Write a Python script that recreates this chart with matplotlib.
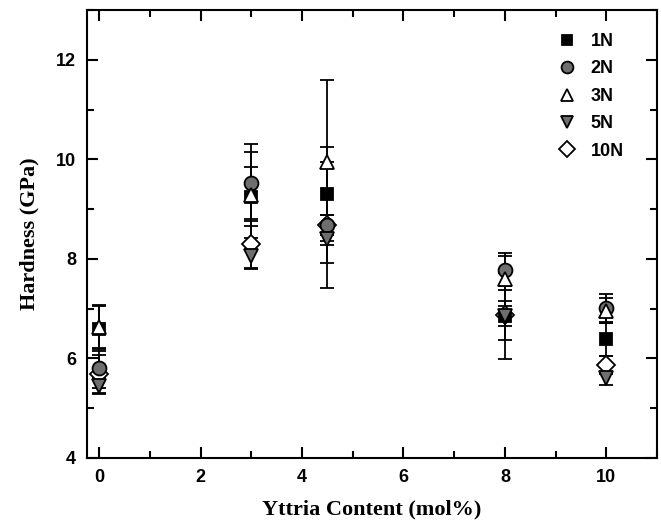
import matplotlib
matplotlib.use('Agg')
import matplotlib.pyplot as plt
from matplotlib.ticker import MultipleLocator

# Yttria content (mol%) for each group of measurements
yttria = [0, 3, 4.5, 8, 10]

# hardness (GPa) and error bar half-widths for each load
h_1n = [6.60, 9.25, 9.30, 6.85, 6.39]
e_1n = [0.45, 0.60, 0.94, 0.87, 0.34]
h_2n = [5.80, 9.53, 8.68, 7.78, 7.01]
e_2n = [0.40, 0.77, 1.27, 0.33, 0.29]
h_3n = [6.63, 9.28, 9.94, 7.60, 6.96]
e_3n = [0.44, 0.86, 1.66, 0.45, 0.25]
h_5n = [5.45, 8.06, 8.40, 6.85, 5.60]
e_5n = [0.16, 0.25, 0.48, 0.20, 0.13]
h_10n = [5.68, 8.30, 8.68, 6.87, 5.87]
e_10n = [0.38, 0.50, 0.20, 0.50, 0.18]

labels = ['1N', '2N', '3N', '5N', '10N']


def main():
    plt.rcParams['font.family'] = ['Liberation Sans', 'DejaVu Sans']
    fig = plt.figure(figsize=(6.61, 5.24), dpi=100)
    ax = fig.add_axes([0.1316, 0.126, 0.8624, 0.855])

    # (values, errors, marker, face colour, size, zorder)
    series = [
        (h_1n, e_1n, 's', 'black', 8, 4),
        (h_2n, e_2n, 'o', '#6e6e6e', 10, 5),
        (h_3n, e_3n, '^', 'white', 10, 6),
        (h_5n, e_5n, 'v', '#6e6e6e', 10, 7),
        (h_10n, e_10n, 'D', 'white', 9.5, 3),
    ]
    handles = []
    for (vals, errs, mk, fc, ms, z), lab in zip(series, labels):
        # error bars underneath every marker
        ax.errorbar(yttria, vals, yerr=errs, fmt='none', ecolor='black',
                    elinewidth=1.3, capsize=5, capthick=1.3, zorder=2)
        ln, = ax.plot(yttria, vals, ls='none', marker=mk, mfc=fc,
                      mec='black', mew=1.3, ms=ms, label=lab, zorder=z)
        handles.append(ln)

    ax.set_xlim(-0.24, 11)
    ax.set_ylim(4, 13)
    ax.xaxis.set_major_locator(MultipleLocator(2))
    ax.xaxis.set_minor_locator(MultipleLocator(1))
    ax.yaxis.set_major_locator(MultipleLocator(2))
    ax.yaxis.set_minor_locator(MultipleLocator(1))
    ax.tick_params(which='both', direction='in', top=True, right=True,
                   width=1.5, labelsize=13, pad=8)
    ax.tick_params(which='major', length=8)
    ax.tick_params(which='minor', length=5)
    for lbl in ax.get_xticklabels() + ax.get_yticklabels():
        lbl.set_fontweight('bold')
    for sp in ax.spines.values():
        sp.set_linewidth(1.5)

    ax.set_xlabel('Yttria Content (mol%)', family='Liberation Serif',
                  fontweight='bold', fontsize=16, labelpad=10)
    ax.set_ylabel('Hardness (GPa)', family='Liberation Serif',
                  fontweight='bold', fontsize=16, labelpad=12)

    ax.legend(handles, labels, loc='upper right', frameon=False,
              bbox_to_anchor=(0.97, 0.985), handletextpad=0.8,
              labelspacing=0.58, prop={'weight': 'bold', 'size': 13},
              handlelength=1.0, markerscale=0.85)

    fig.savefig('out.png', dpi=100)


if __name__ == "__main__":
    main()
